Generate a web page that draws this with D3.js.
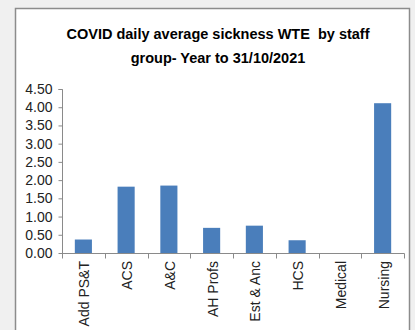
<!DOCTYPE html>
<html>
<head>
<meta charset="utf-8">
<script src="https://cdn.jsdelivr.net/npm/d3@7"></script>
<style>
  html, body { margin: 0; padding: 0; background: #f0f0f0; }
  svg { display: block; }
  text { white-space: pre; }
</style>
</head>
<body>
<script>
// Staff groups and their COVID daily average sickness (WTE)
const categories = ["Add PS&T", "ACS", "A&C", "AH Profs", "Est & Anc", "HCS", "Medical", "Nursing"];
const values = [0.37, 1.82, 1.85, 0.69, 0.75, 0.35, 0, 4.11];
const yTicks = [0, 0.5, 1, 1.5, 2, 2.5, 3, 3.5, 4, 4.5];
const titleLines = ["COVID daily average sickness WTE  by staff", "group- Year to 31/10/2021"];

const W = 415, H = 330;
const svg = d3.select("body").append("svg").attr("width", W).attr("height", H);

// chart panel
svg.append("rect")
  .attr("x", 15.5).attr("y", 8.5)
  .attr("width", 394).attr("height", 330)
  .attr("fill", "#ffffff")
  .attr("stroke", "#8c8c8c").attr("stroke-width", 1.5);

const font = "Liberation Sans, Arial, sans-serif";

// title
svg.append("g").selectAll("text")
  .data(titleLines)
  .join("text")
  .attr("x", 218)
  .attr("y", (d, i) => 39 + i * 24)
  .attr("text-anchor", "middle")
  .attr("font-family", font)
  .attr("font-weight", "bold")
  .attr("font-size", "14.5px")
  .attr("fill", "#000")
  .text(d => d);

const plotLeft = 62, plotRight = 404, plotTop = 89, plotBottom = 253;

const x = d3.scaleBand().domain(categories).range([plotLeft, plotRight]).paddingInner(0.6).paddingOuter(0.3);
const y = d3.scaleLinear().domain([0, 4.5]).range([plotBottom, plotTop]);

// bars
svg.append("g").selectAll("rect")
  .data(values)
  .join("rect")
  .attr("x", (d, i) => x(categories[i]))
  .attr("y", d => y(d))
  .attr("width", x.bandwidth())
  .attr("height", d => plotBottom - y(d))
  .attr("fill", "#4a7ebb");

// y axis
const yAxis = svg.append("g")
  .attr("transform", `translate(${plotLeft + 0.5},0)`)
  .call(d3.axisLeft(y).tickValues(yTicks).tickFormat(d3.format(".2f")).tickSize(4).tickPadding(6));
yAxis.select(".domain").attr("stroke", "#8a8a8a").attr("d", `M-4,${plotTop + 0.5}H0V${plotBottom + 0.5}`);
yAxis.selectAll(".tick line").attr("stroke", "#8a8a8a");
yAxis.selectAll(".tick text")
  .attr("font-family", font).attr("font-size", "14px").attr("fill", "#222");

// x axis with tick marks between categories
const xb = d3.scaleLinear().domain([0, categories.length]).range([plotLeft, plotRight]);
const xAxis = svg.append("g").attr("transform", `translate(0,${plotBottom + 0.5})`);
xAxis.append("line")
  .attr("x1", plotLeft).attr("x2", plotRight + 0.5)
  .attr("stroke", "#8a8a8a");
xAxis.selectAll("line.tk")
  .data(d3.range(categories.length + 1))
  .join("line")
  .attr("class", "tk")
  .attr("x1", d => Math.round(xb(d)) + 0.5).attr("x2", d => Math.round(xb(d)) + 0.5)
  .attr("y1", 0).attr("y2", 5)
  .attr("stroke", "#8a8a8a");

// rotated category labels
svg.append("g").selectAll("text")
  .data(categories)
  .join("text")
  .attr("transform", d => `translate(${x(d) + x.bandwidth() / 2 + 1},${plotBottom + 8}) rotate(-90)`)
  .attr("dy", "0.35em")
  .attr("text-anchor", "end")
  .attr("font-family", font)
  .attr("font-size", "14px")
  .attr("fill", "#222")
  .text(d => d);
</script>
</body>
</html>
